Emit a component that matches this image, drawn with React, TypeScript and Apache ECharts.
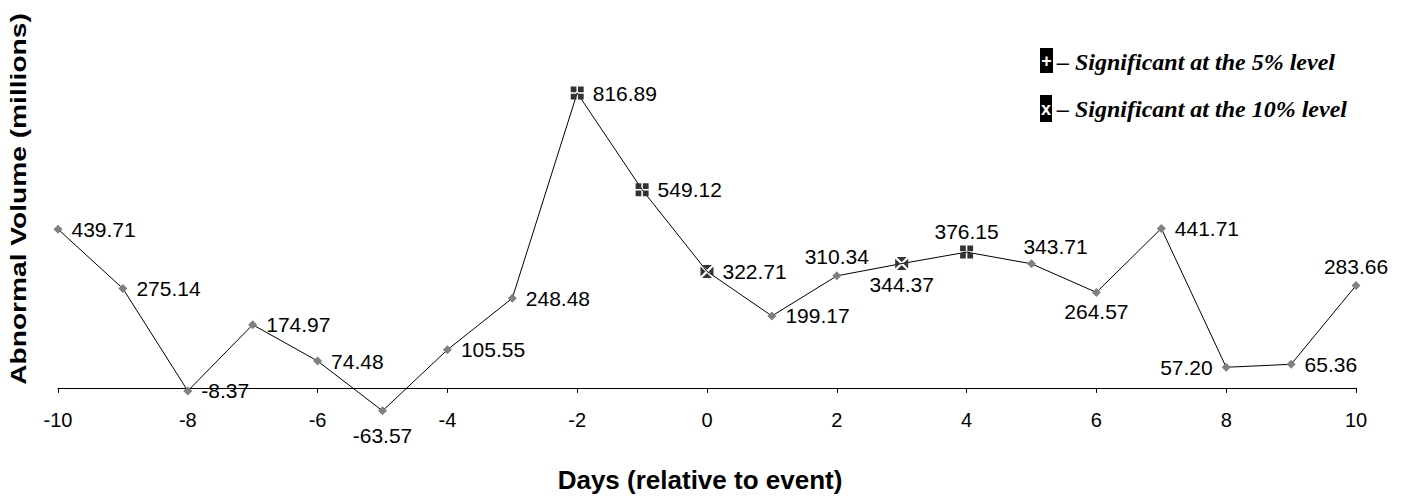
import React, { useEffect, useRef } from "react";
import * as echarts from "echarts";

const days = [-10, -9, -8, -7, -6, -5, -4, -3, -2, -1, 0, 1, 2, 3, 4, 5, 6, 7, 8, 9, 10];
const volumes = [439.71, 275.14, -8.37, 174.97, 74.48, -63.57, 105.55, 248.48, 816.89, 549.12, 322.71, 199.17, 310.34, 344.37, 376.15, 343.71, 264.57, 441.71, 57.2, 65.36, 283.66];
const sig5Days = [-2, -1, 4];
const sig10Days = [0, 3];
const labelPos = ["right", "right", "right", "right", "right", "bottomfar", "right", "right", "right", "right", "right", "right", "top", "bottom", "top", "topright", "bottom", "right", "left", "right", "top"];
const xTicks = [-10, -8, -6, -4, -2, 0, 2, 4, 6, 8, 10];

const PLUS_PATH = "path://M0 0H4.4V4.4H0Z M5.6 0H10V4.4H5.6Z M0 5.6H4.4V10H0Z M5.6 5.6H10V10H5.6Z";
const CROSS_PATH = "path://M1.2 0H8.8L5 3.8Z M1.2 10H8.8L5 6.2Z M0 1.2V8.8L3.8 5Z M10 1.2V8.8L6.2 5Z";

export default function App() {
  const ref = useRef<HTMLDivElement>(null);
  useEffect(() => {
    const chart = echarts.init(ref.current!, null, { renderer: "svg" });
    const data = volumes.map((v, i) => {
      const d = days[i];
      const p = labelPos[i];
      let symbol = "diamond";
      let symbolSize = 9;
      let color = "#808080";
      if (sig5Days.includes(d)) {
        symbol = PLUS_PATH;
        symbolSize = 13;
        color = "#333333";
      } else if (sig10Days.includes(d)) {
        symbol = CROSS_PATH;
        symbolSize = 13;
        color = "#333333";
      }
      let position = p;
      let distance = 9;
      if (p === "top" || p === "bottom") distance = 4;
      if (p === "topright") { position = "top"; distance = 4; }
      if (p === "bottomfar") { position = "bottom"; distance = 10; }
      const label: any = { position, distance };
      if (p === "topright") label.offset = [24, 2];
      return { value: [d, v], symbol, symbolSize, itemStyle: { color }, label };
    });
    chart.setOption({
      animation: false,
      grid: { left: 58, right: 45, top: 63, height: 361, outerBoundsMode: "none", containLabel: false },
      xAxis: {
        type: "value",
        min: -10,
        max: 10,
        interval: 2,
        axisLine: { onZero: true, lineStyle: { color: "#000", width: 1 } },
        axisTick: { show: true, length: 5, lineStyle: { color: "#000" } },
        axisLabel: { margin: -14, color: "#000", fontSize: 20, fontFamily: "Liberation Sans", formatter: (v: number) => (xTicks.includes(v) ? String(v) : "") },
        splitLine: { show: false },
      },
      yAxis: {
        type: "value",
        min: -100,
        max: 900,
        show: false,
      },
      graphic: [
        {
          type: "text",
          x: 18,
          y: 199,
          rotation: Math.PI / 2,
          scaleX: 1.28,
          style: { text: "Abnormal Volume (millions)", fill: "#000", font: "bold 22px 'Liberation Sans'", align: "center", verticalAlign: "middle" },
        },
        {
          type: "text",
          x: 700,
          y: 480,
          style: { text: "Days (relative to event)", fill: "#000", font: "bold 26px 'Liberation Sans'", align: "center", verticalAlign: "middle" },
        },
        { type: "rect", shape: { x: 1040, y: 48, width: 13, height: 25 }, style: { fill: "#000" } },
        { type: "text", x: 1046.5, y: 61, style: { text: "+", fill: "#fff", font: "bold 18px 'Liberation Sans'", align: "center", verticalAlign: "middle" } },
        { type: "text", x: 1057, y: 62, style: { text: "– Significant at the 5% level", fill: "#000", font: "italic bold 24px 'Liberation Serif'", align: "left", verticalAlign: "middle" } },
        { type: "rect", shape: { x: 1040, y: 95, width: 12, height: 27 }, style: { fill: "#000" } },
        { type: "text", x: 1046, y: 109, style: { text: "x", fill: "#fff", font: "bold 18px 'Liberation Sans'", align: "center", verticalAlign: "middle" } },
        { type: "text", x: 1057, y: 109, style: { text: "– Significant at the 10% level", fill: "#000", font: "italic bold 24px 'Liberation Serif'", align: "left", verticalAlign: "middle" } },
      ],
      series: [
        {
          type: "line",
          data,
          lineStyle: { color: "#000", width: 1 },
          label: { show: true, color: "#000", fontSize: 21, fontFamily: "Liberation Sans", formatter: (p: any) => p.value[1].toFixed(2) },
        },
      ],
    });
    return () => chart.dispose();
  }, []);
  return <div ref={ref} style={{ position: "absolute", left: 0, top: 0, width: 1401, height: 496 }} />;
}
